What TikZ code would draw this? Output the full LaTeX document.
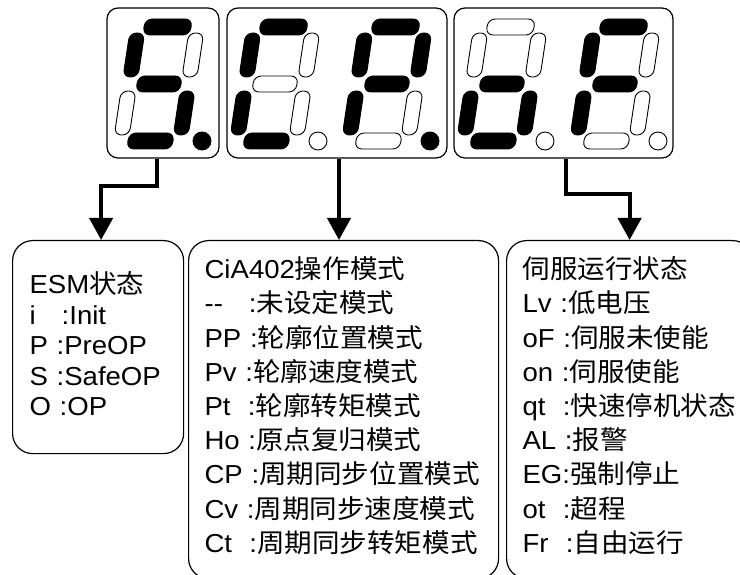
\documentclass[tikz,border=0pt]{standalone}
\usepackage{fontspec}
\setmainfont{Liberation Sans}[FakeStretch=1.06]
\newfontfamily\cjk{Noto Sans CJK SC}[FakeStretch=1.06]
\usetikzlibrary{arrows.meta}

% x position, then segments a b c d e f g and the point
\newcommand{\segdigit}[9]{%
  \begin{scope}[shift={(#1,84)}, xslant=0.15]
    \path[seg,#2] (-23.5,-65) rectangle (23.5,-49);
    \path[seg,#3] (22,-51) rectangle (37,-7);
    \path[seg,#4] (22,7) rectangle (37,51);
    \path[seg,#5] (-22.5,49) rectangle (22.5,65);
    \path[seg,#6] (-37,7) rectangle (-22,51);
    \path[seg,#7] (-37,-51) rectangle (-22,-7);
    \path[seg,#8] (-22,-8) rectangle (22,8);
  \end{scope}
  \path[seg,#9] (#1+43,141) circle (9pt);
}

\begin{document}
\begin{tikzpicture}[
    x=1pt, y=-1pt,
    seg/.style={draw, line width=0.9pt, fill=white, rounded corners=7pt},
    segon/.style={fill=black},
    segoff/.style={},
    led/.style={draw, line width=1.2pt, rounded corners=11pt, minimum height=150pt, inner sep=0pt},
    txt/.style={draw, line width=1.2pt, rounded corners=20pt, align=left, anchor=north west, inner ysep=0pt},
    arr/.style={-{Triangle[length=22pt,width=23pt]}, line width=4pt}
]
\useasboundingbox (0,0) rectangle (740,575);
\node[led, minimum width=112pt] (esmled) at (163,83) {};
\node[led, minimum width=220pt] (modeled) at (337,83) {};
\node[led, minimum width=219pt] (stateled) at (563.5,83) {};
\segdigit{159}{segon}{segoff}{segon}{segon}{segoff}{segon}{segon}{segon}
\segdigit{275}{segon}{segoff}{segoff}{segon}{segon}{segon}{segoff}{segoff}
\segdigit{387}{segon}{segon}{segoff}{segoff}{segon}{segon}{segon}{segon}
\segdigit{502}{segoff}{segoff}{segon}{segon}{segon}{segoff}{segon}{segoff}
\segdigit{615}{segon}{segoff}{segoff}{segoff}{segon}{segon}{segon}{segoff}
\node[txt, text width=137pt, inner xsep=17pt, minimum height=213pt, font=\fontsize{26}{30.5}\selectfont] (esm) at (12,240)
  {ESM{\cjk 状态}\\ i\ \ \ :Init\\ P :PreOP\\ S :SafeOP\\ O :OP\rule[-7pt]{0pt}{7pt}};
\node[txt, text width=278pt, inner xsep=16pt, minimum height=338pt, font=\fontsize{26}{34.2}\selectfont] (mode) at (188,240)
  {CiA402{\cjk 操作模式}\\
   -{}-\ \ \ :{\cjk 未设定模式}\\
   PP :{\cjk 轮廓位置模式}\\
   Pv :{\cjk 轮廓速度模式}\\
   Pt\ \ :{\cjk 轮廓转矩模式}\\
   Ho :{\cjk 原点复归模式}\\
   CP :{\cjk 周期同步位置模式}\\
   Cv :{\cjk 周期同步速度模式}\\
   Ct\ \ :{\cjk 周期同步转矩模式}\rule[-10pt]{0pt}{10pt}};
\node[txt, text width=214pt, inner xsep=16pt, minimum height=338pt, font=\fontsize{26}{34.2}\selectfont] (state) at (506,240)
  {{\cjk 伺服运行状态}\\
   Lv :{\cjk 低电压}\\
   oF :{\cjk 伺服未使能}\\
   on :{\cjk 伺服使能}\\
   qt\ \ :{\cjk 快速停机状态}\\
   AL :{\cjk 报警}\\
   EG:{\cjk 强制停止}\\
   ot\ \ :{\cjk 超程}\\
   Fr\ \ :{\cjk 自由运行}\rule[-10pt]{0pt}{10pt}};
\draw[arr] ([xshift=-6pt]esmled.south) -- ++(0,27) -| ([xshift=3pt]esm.north);
\draw[arr] ([xshift=2pt]modeled.south) -- ([xshift=2pt]modeled.south |- mode.north);
\draw[arr] ([xshift=2.5pt]stateled.south) -- ++(0,35) -| (state.north);
\end{tikzpicture}
\end{document}
